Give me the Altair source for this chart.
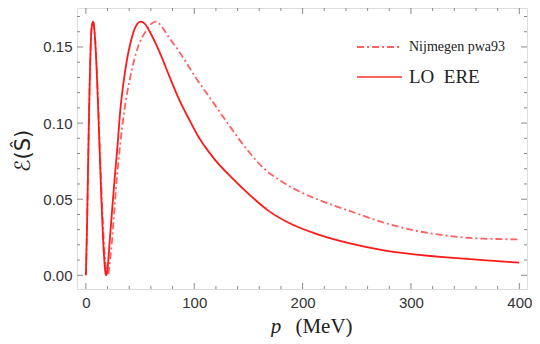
import altair as alt
import pandas as pd

# ---- data ----
p_lo = [0, 1, 2, 3, 4, 5, 6, 6.5, 7, 8, 9, 10, 11, 12, 13, 14, 15, 16, 17, 18, 18.6,
        19.5, 20.5, 21.7, 24.1, 26.6, 29.3, 31.7, 35.4, 38.0, 40.9, 44.0, 47.0, 50.6,
        54.0, 58.6, 64.7, 70.7, 76.9, 86.0, 95.2, 104.3, 119.6, 134.8, 150.1, 168.3,
        190, 214, 244.6, 275, 305.6, 336, 366.6, 400]
e_lo = [0.0, 0.03, 0.07, 0.11, 0.14, 0.16, 0.1655, 0.1667, 0.166, 0.160, 0.149, 0.134,
        0.116, 0.096, 0.076, 0.056, 0.038, 0.022, 0.010, 0.002, 0.0,
        0.002, 0.008, 0.020, 0.042, 0.064, 0.086, 0.108, 0.130, 0.142, 0.152, 0.160,
        0.1648, 0.1667, 0.1655, 0.1605, 0.1518, 0.142, 0.131, 0.1156, 0.1025, 0.0905,
        0.0755, 0.0640, 0.0535, 0.0425, 0.0335, 0.0269, 0.0208, 0.0164, 0.0136,
        0.0116, 0.0100, 0.0083]

p_nij = [0, 1, 2, 3, 4, 5, 6, 6.5, 7, 8, 9, 10, 11, 12, 13, 14, 15, 16, 17, 18, 19,
         20.1, 21.0, 22.0, 23.8, 26.2, 28.6, 31.7, 35.4, 40.9, 49.1, 55.0, 60.0, 64.7,
         70.7, 76.0, 86.0, 101.3, 116.5, 131.7, 150.0, 165.3, 180.0, 195.8, 214.0,
         244.6, 275, 305.6, 336, 366.6, 400]
e_nij = [0.0, 0.03, 0.07, 0.11, 0.14, 0.16, 0.1655, 0.1667, 0.166, 0.160, 0.150, 0.136,
         0.119, 0.100, 0.081, 0.062, 0.045, 0.030, 0.017, 0.008, 0.002,
         0.0, 0.002, 0.008, 0.020, 0.042, 0.064, 0.086, 0.108, 0.130, 0.152, 0.160,
         0.165, 0.1667, 0.1627, 0.157, 0.147, 0.130, 0.1145, 0.099, 0.0815, 0.0695,
         0.0620, 0.0555, 0.0498, 0.0420, 0.0346, 0.0291, 0.0258, 0.0241, 0.0236]

x_major = [0, 100, 200, 300, 400]
x_minor = [20, 40, 60, 80, 120, 140, 160, 180, 220, 240, 260, 280, 320, 340, 360, 380]
y_major = [0.0, 0.05, 0.10, 0.15]
y_minor = [0.01, 0.02, 0.03, 0.04, 0.06, 0.07, 0.08, 0.09, 0.11, 0.12, 0.13, 0.14,
           0.16, 0.17]
legend_labels = ["Nijmegen pwa93", "LO\u00a0\u00a0ERE"]

# ---- styling ----
W, H = 450, 281
GRAY = "#8a8a8a"
RED = "#ff1a1a"
RED_LIGHT = "#ff6060"
DASH = [7, 3, 2, 3]

xs = alt.Scale(domain=[-8.2, 407.1], nice=False, zero=False)
ys = alt.Scale(domain=[-0.009, 0.1756], nice=False, zero=False)

lo_df = pd.DataFrame({"p": p_lo, "e": e_lo})
nij_df = pd.DataFrame({"p": p_nij, "e": e_nij})

x_axis = alt.Axis(values=x_major, format="d", ticks=False, domain=False, grid=False,
                  labelFont="Liberation Sans", labelFontSize=15, labelColor="#333",
                  labelPadding=6, title=None)
y_axis = alt.Axis(values=y_major, format=".2f", ticks=False, domain=False, grid=False,
                  labelFont="Liberation Sans", labelFontSize=15, labelColor="#333",
                  labelPadding=5, title=None)

nij = alt.Chart(nij_df).mark_line(color=RED_LIGHT, strokeWidth=1.8, strokeDash=DASH,
                                  interpolate="monotone").encode(
    x=alt.X("p:Q", scale=xs, axis=x_axis),
    y=alt.Y("e:Q", scale=ys, axis=y_axis),
)
lo = alt.Chart(lo_df).mark_line(color=RED, strokeWidth=1.8, interpolate="monotone").encode(
    x=alt.X("p:Q", scale=xs, axis=x_axis),
    y=alt.Y("e:Q", scale=ys, axis=y_axis),
)


def xticks(vals, length, top):
    y0, y1 = (0, length) if top else (H, H - length)
    return alt.Chart(pd.DataFrame({"v": vals})).mark_rule(color=GRAY, strokeWidth=1).encode(
        x=alt.X("v:Q", scale=xs, axis=x_axis), y=alt.value(y0), y2=alt.value(y1))


def yticks(vals, length, right):
    x0, x1 = (W, W - length) if right else (0, length)
    return alt.Chart(pd.DataFrame({"v": vals})).mark_rule(color=GRAY, strokeWidth=1).encode(
        y=alt.Y("v:Q", scale=ys, axis=y_axis), x=alt.value(x0), x2=alt.value(x1))


ticks = [xticks(x_major, 6, False), xticks(x_minor, 3, False),
         xticks(x_major, 6, True), xticks(x_minor, 3, True),
         yticks(y_major, 6, False), yticks(y_minor, 3, False),
         yticks(y_major, 6, True), yticks(y_minor, 3, True)]

leg0 = pd.DataFrame({"t": [legend_labels[0]]})
leg1 = pd.DataFrame({"t": [legend_labels[1]]})
leg_line0 = alt.Chart(leg0).mark_rule(color=RED_LIGHT, strokeWidth=1.8, strokeDash=DASH).encode(
    x=alt.value(280), x2=alt.value(325), y=alt.value(39))
leg_line1 = alt.Chart(leg1).mark_rule(color=RED_LIGHT, strokeWidth=2).encode(
    x=alt.value(280), x2=alt.value(325), y=alt.value(69))
leg_text0 = alt.Chart(leg0).mark_text(align="left", baseline="middle", font="Liberation Serif",
                                      fontSize=14, color="#222").encode(
    x=alt.value(332), y=alt.value(39), text="t:N")
leg_text1 = alt.Chart(leg1).mark_text(align="left", baseline="middle", font="Liberation Serif",
                                      fontSize=19, color="#222").encode(
    x=alt.value(332), y=alt.value(69), text="t:N")

xt_df = pd.DataFrame({"a": ["p"], "b": ["(MeV)"]})
xtitle_p = alt.Chart(xt_df).mark_text(font="Liberation Serif", fontSize=21, fontStyle="italic",
                                      color="#222", baseline="middle").encode(
    x=alt.value(199), y=alt.value(319), text="a:N")
xtitle_u = alt.Chart(xt_df).mark_text(font="Liberation Serif", fontSize=21,
                                      color="#222", baseline="middle").encode(
    x=alt.value(247), y=alt.value(319), text="b:N")
yt_df = pd.DataFrame({"t": ["ℰ(Ŝ)"]})
ytitle = alt.Chart(yt_df).mark_text(font="DejaVu Sans", fontSize=21, angle=270,
                                    color="#222", baseline="middle").encode(
    x=alt.value(-53), y=alt.value(143), text="t:N")

chart = alt.layer(
    nij, lo, *ticks, leg_line0, leg_line1, leg_text0, leg_text1, xtitle_p, xtitle_u, ytitle
).properties(
    width=W, height=H,
    autosize=alt.AutoSizeParams(type="none"),
    padding={"left": 69, "top": 0, "right": 5, "bottom": 48},
).configure_view(stroke=GRAY, strokeWidth=1).configure(background="white")

chart.save("out.html", embed_options={"renderer": "svg", "actions": False})
